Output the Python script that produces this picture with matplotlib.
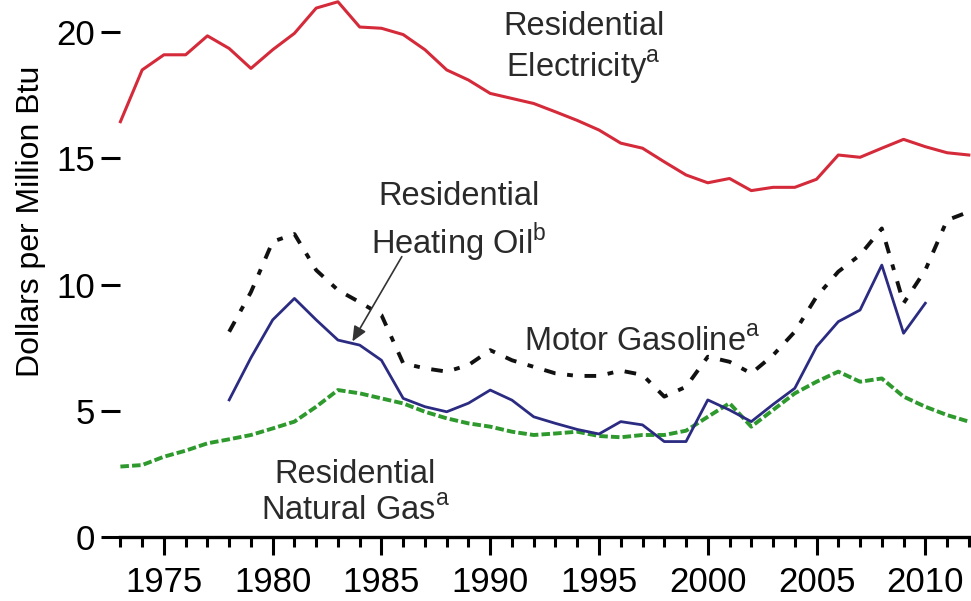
import matplotlib.pyplot as plt
import numpy as np

plt.rcParams['font.family'] = ['Liberation Sans', 'DejaVu Sans']
plt.rcParams['mathtext.fontset'] = 'custom'
plt.rcParams['mathtext.rm'] = 'Liberation Sans'

# Data (dollars per million Btu)
elec_years = np.arange(1973, 2013)
elec = [16.45, 18.5, 19.1, 19.1, 19.85, 19.35, 18.56, 19.3, 19.95, 20.95,
        21.2, 20.2, 20.15, 19.9, 19.3, 18.5, 18.1, 17.57, 17.37, 17.17,
        16.84, 16.5, 16.12, 15.6, 15.4, 14.86, 14.34, 14.03, 14.2, 13.72,
        13.85, 13.85, 14.17, 15.13, 15.04, 15.4, 15.75, 15.46, 15.22, 15.13]

oil_years = np.arange(1978, 2011)
oil = [5.43, 7.1, 8.6, 9.45, 8.6, 7.8, 7.6, 7.0, 5.49, 5.16,
       4.96, 5.3, 5.82, 5.42, 4.76, 4.5, 4.26, 4.08, 4.57, 4.44,
       3.78, 3.78, 5.43, 5.03, 4.57, 5.25, 5.89, 7.54, 8.53, 8.99,
       10.77, 8.07, 9.26]

gas_years = np.arange(1978, 2013)
gasoline = [8.13, 9.7, 11.7, 12.0, 10.57, 9.78, 9.3, 8.79, 6.88, 6.68,
            6.55, 6.81, 7.4, 7.0, 6.74, 6.48, 6.38, 6.38, 6.59, 6.42,
            5.56, 5.95, 7.14, 6.94, 6.48, 7.2, 8.13, 9.52, 10.51, 11.17,
            12.22, 9.26, 10.57, 12.55, 12.88]

ng_years = np.arange(1973, 2013)
natgas = [2.79, 2.85, 3.18, 3.42, 3.71, 3.87, 4.04, 4.3, 4.57, 5.16,
          5.82, 5.69, 5.49, 5.29, 4.96, 4.7, 4.5, 4.37, 4.17, 4.04,
          4.1, 4.17, 4.0, 3.95, 4.04, 4.04, 4.21, 4.76, 5.3, 4.37,
          5.03, 5.69, 6.15, 6.55, 6.15, 6.28, 5.56, 5.16, 4.83, 4.57]

fig = plt.figure(figsize=(9.71, 6.01), dpi=100)
ax = fig.add_axes([0.124, 0.1065, 0.876, 0.8935])

ax.plot(elec_years, elec, color='#d42a3a', linewidth=2.2, clip_on=False)
ax.plot(ng_years, natgas, color='#2e9a2e', linewidth=2.8,
        linestyle=(0, (2.2, 0.8)), clip_on=False)
ax.plot(oil_years, oil, color='#2b2b82', linewidth=2.0, clip_on=False)
ax.plot(gas_years, gasoline, color='#111111', linewidth=2.8,
        linestyle=(0, (3, 3, 1.5, 3)), clip_on=False)

ax.set_xlim(1973.0, 2012.1)
ax.set_ylim(0, 21.27)

ax.set_xticks(np.arange(1975, 2011, 5))
ax.set_xticks(np.arange(1973, 2013), minor=True)
ax.set_yticks([0, 5, 10, 15, 20])
ax.tick_params(axis='x', which='major', length=13, width=2.2, labelsize=25, pad=8, direction='out')
ax.tick_params(axis='x', which='minor', length=7, width=2.2, direction='out')
ax.tick_params(axis='y', which='major', length=14, width=2.2, labelsize=25, pad=4, direction='out')

for side in ['top', 'right', 'left']:
    ax.spines[side].set_visible(False)
ax.spines['bottom'].set_linewidth(2.4)

ax.set_ylabel('Dollars per Million Btu', fontsize=23, va='center')
ax.yaxis.set_label_coords(-0.105, 0.588)

txt = dict(fontsize=23.5, color='#2a2a2a', ha='center', va='center', linespacing=1.25)
ax.text(1994.3, 19.35, 'Residential\nElectricity$^{\\mathrm{a}}$', **txt)
ax.text(1988.55, 12.45, 'Residential\nHeating Oil$^{\\mathrm{b}}$', **txt)
ax.text(1997.0, 7.7, 'Motor Gasoline$^{\\mathrm{a}}$', **txt)
ax.text(1983.8, 1.75, 'Residential\nNatural Gas$^{\\mathrm{a}}$', **txt)

ax.annotate('', xy=(1983.6, 7.65), xytext=(1986.0, 11.2),
            arrowprops=dict(arrowstyle='-|>,head_length=0.9,head_width=0.4',
                            color='#333333', linewidth=1.2))

fig.savefig('out.png', dpi=100)
